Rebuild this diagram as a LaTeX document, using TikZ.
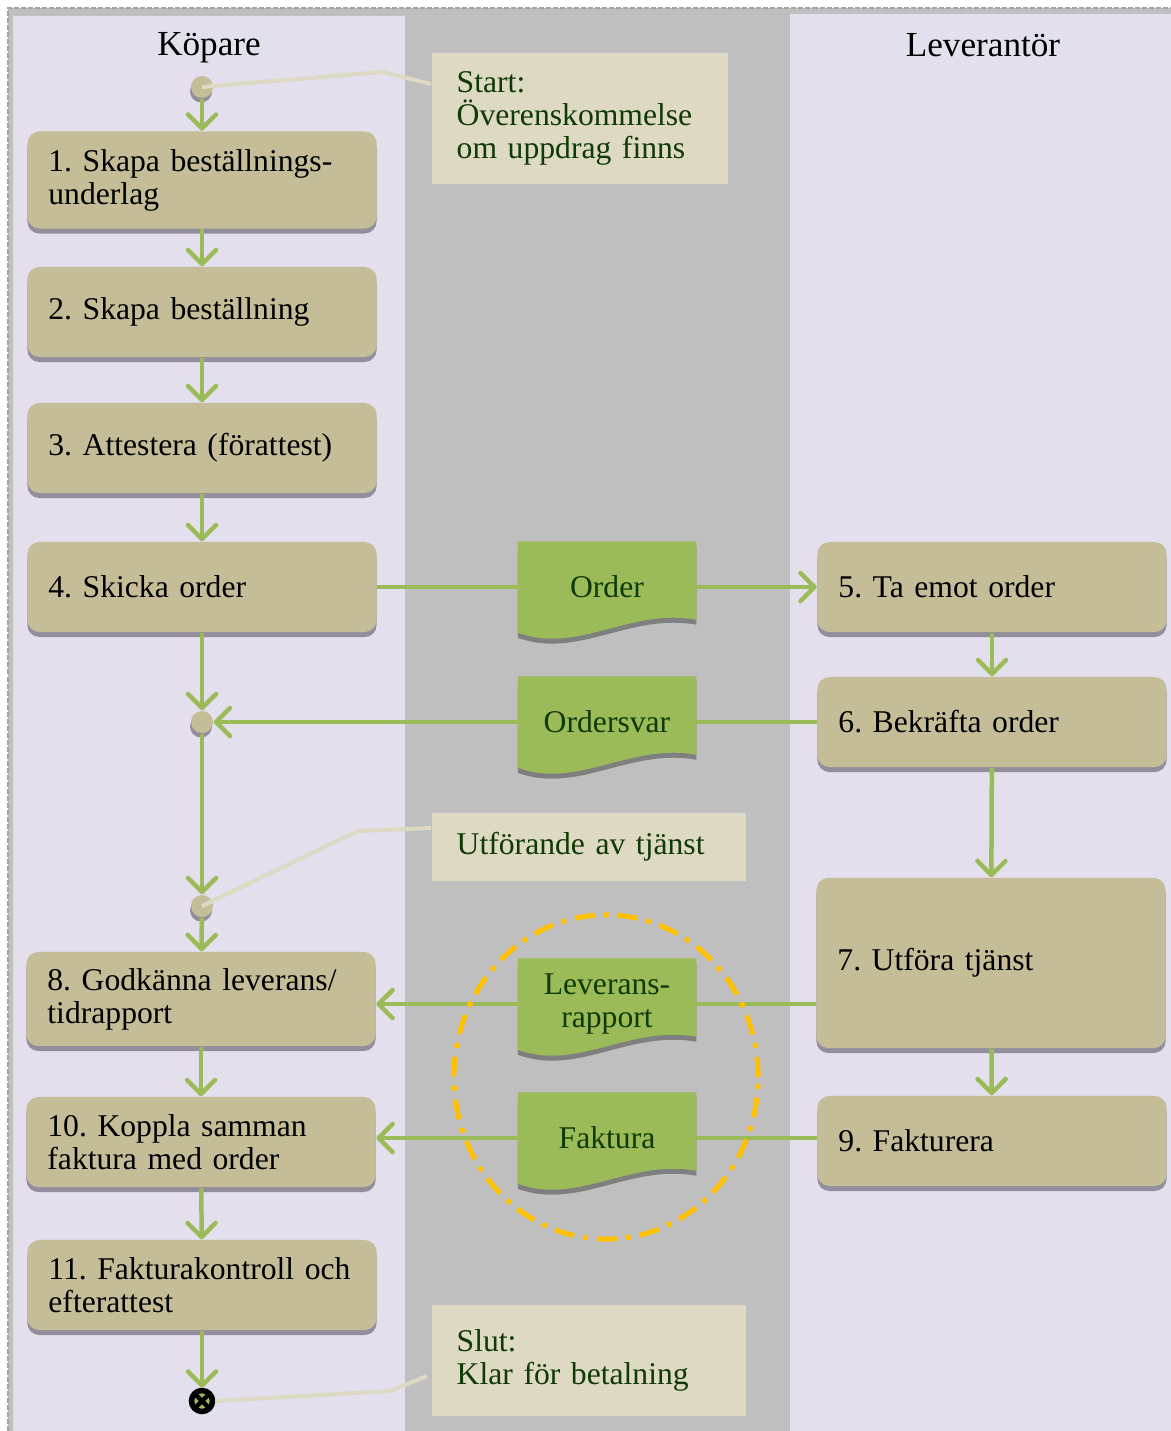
\documentclass[tikz,border=0pt]{standalone}
\usepackage{fontspec}
\setmainfont{Liberation Serif}
\frenchspacing
\usetikzlibrary{arrows.meta,shadows,calc}
\definecolor{lanebg}{HTML}{E4DFEC}
\definecolor{midbg}{HTML}{BFBFBF}
\definecolor{acttan}{HTML}{C4BD97}
\definecolor{notebg}{HTML}{DDD9C3}
\definecolor{flowgreen}{HTML}{9BBB59}
\definecolor{txtgreen}{HTML}{103A05}
\definecolor{boxshade}{HTML}{928E9B}
\definecolor{docshade}{HTML}{7F7F7F}
\definecolor{ringgold}{HTML}{FFC000}
\pgfdeclarelayer{lanes}
\pgfdeclarelayer{background}
\pgfsetlayers{lanes,background,main}

\tikzset{
  actbox/.style={fill=acttan, rounded corners=0.12cm, minimum width=3.49cm, minimum height=0.9cm,
    text width=3.07cm, inner xsep=0.21cm, align=left,
    drop shadow={shadow xshift=0cm, shadow yshift=-0.05cm, fill=boxshade, opacity=1}},
  docbox/.style={minimum width=1.77cm, minimum height=0.9cm, inner sep=0, text width=1.77cm, align=center, text=txtgreen},
  notebox/.style={fill=notebg, anchor=north west, inner xsep=0.25cm, align=left, text=txtgreen},
  joindot/.style={circle, fill=acttan, minimum size=0.22cm, inner sep=0,
    drop shadow={shadow xshift=-0.01cm, shadow yshift=-0.045cm, fill=boxshade, opacity=1}},
  flowline/.style={draw=flowgreen, line width=0.045cm},
  flowarrow/.style={flowline, -{Straight Barb[length=0.14cm,width=0.28cm,round]}},
  calloutline/.style={draw=notebg, line width=0.04cm},
}

% document shape with wavy bottom, filled behind the node
\newcommand{\docfill}[1]{%
  \fill[docshade] ($(#1.north west)+(0,5)$) -- ($(#1.north east)+(0,5)$) -- ($(#1.south east)+(0,-8)$)
    .. controls ($(#1.south east)+(-67,-20)$) and ($(#1.south west)+(60,27)$) .. ($(#1.south west)+(0,5)$) -- cycle;
  \fill[flowgreen] (#1.north west) -- (#1.north east) -- ($(#1.south east)+(0,-13)$)
    .. controls ($(#1.south east)+(-67,-25)$) and ($(#1.south west)+(60,22)$) .. (#1.south west) -- cycle;}

\begin{document}
\begin{tikzpicture}[x=0.01cm, y=-0.01cm, font=\fontsize{9}{9.4}\selectfont]
\useasboundingbox (0,0) rectangle (1171,1431);

% lanes
\begin{pgfonlayer}{lanes}
  \fill[midbg] (8,8) rectangle (1171,1431);
  \draw[midbg!85!black, line width=0.02cm, dash pattern=on 0.05cm off 0.02cm] (8,1431) -- (8,8) -- (1171,8);
  \fill[lanebg] (13,16) rectangle (405,1431);
  \fill[lanebg] (790,14) rectangle (1171,1431);
\end{pgfonlayer}

\node[font=\fontsize{10}{12}\selectfont] (tBuyer) at (209,48) {Köpare};
\node[font=\fontsize{10}{12}\selectfont] (tSupp) at (983,45) {Leverantör};

% activities
\node[actbox, minimum height=0.97cm] (b1) at (202,180) {1. Skapa beställnings-\\underlag};
\node[actbox] (b2) at (202,312) {2. Skapa beställning};
\node[actbox] (b3) at (202,448) {3. Attestera (förattest)};
\node[actbox] (b4) at (202,587) {4. Skicka order};
\node[actbox] (b5) at (992,587) {5. Ta emot order};
\node[actbox] (b6) at (992,722) {6. Bekräfta order};
\node[actbox, minimum height=1.7cm] (b7) at (991,963) {7. Utföra tjänst};
\node[actbox, minimum height=0.94cm] (b8) at (201,999) {8. Godkänna leverans/\\tidrapport};
\node[actbox] (b9) at (992,1141) {9. Fakturera};
\node[actbox] (b10) at (201,1142) {10. Koppla samman\\faktura med order};
\node[actbox] (b11) at (202,1285) {11. Fakturakontroll och\\efterattest};

% documents
\node[docbox] (dOrder) at (607,587) {Order};
\node[docbox] (dSvar) at (607,722) {Ordersvar};
\node[docbox] (dLev) at (607,1004) {Leverans-\\rapport};
\node[docbox] (dFak) at (607,1138) {Faktura};
\begin{pgfonlayer}{background}
  \docfill{dOrder}
  \docfill{dSvar}
  \docfill{dLev}
  \docfill{dFak}
\end{pgfonlayer}

% notes
\node[notebox, minimum width=2.96cm, minimum height=1.31cm, text width=2.46cm] (nStart) at (431,52) {Start:\\Överenskommelse\\om uppdrag finns};
\node[notebox, minimum width=3.14cm, minimum height=0.68cm, text width=2.64cm] (nUtf) at (431,812) {Utförande av tjänst};
\node[notebox, minimum width=3.14cm, minimum height=1.11cm, text width=2.64cm] (nSlut) at (431,1304) {Slut:\\Klar för betalning};

% start, join and end points
\node[joindot] (s0) at (202,87) {};
\node[joindot] (j1) at (202,722) {};
\node[joindot] (j2) at (202,906) {};
\node[circle, draw=black, line width=0.055cm, fill=flowgreen, minimum size=0.21cm, inner sep=0,
  path picture={\draw[black, line width=0.045cm]
    (path picture bounding box.north west) -- (path picture bounding box.south east)
    (path picture bounding box.north east) -- (path picture bounding box.south west);}] (fin) at (202,1401) {};

% flows
\draw[flowarrow] (s0) -- (b1);
\draw[flowarrow] (b1) -- (b2);
\draw[flowarrow] (b2) -- (b3);
\draw[flowarrow] (b3) -- (b4);
\draw[flowline] (b4) -- (dOrder);
\draw[flowarrow] (dOrder) -- (b5);
\draw[flowarrow] (b5) -- (b6);
\draw[flowline] (b6) -- (dSvar);
\draw[flowarrow] (dSvar) -- (j1);
\draw[flowarrow] (b4) -- (j1);
\draw[flowarrow] (j1) -- (j2);
\draw[flowarrow] (j2) -- (b8);
\draw[flowarrow] (b6) -- (b7);
\draw[flowline] (dLev.east -| b7.west) -- (dLev.east);
\draw[flowarrow] (dLev.west) -- (dLev.west -| b8.east);
\draw[flowarrow] (b7) -- (b9);
\draw[flowline] (dFak.east -| b9.west) -- (dFak.east);
\draw[flowarrow] (dFak.west) -- (dFak.west -| b10.east);
\draw[flowarrow] (b8) -- (b10);
\draw[flowarrow] (b10) -- (b11);
\draw[flowarrow] (b11) -- (fin);

% callouts
\coordinate (kStart) at (383,72);
\coordinate (kUtf) at (358,831);
\coordinate (kSlut) at (390,1391);
\draw[calloutline] (s0.center) -- (kStart) -- ($(nStart.north west)+(0,32)$);
\draw[calloutline] (j2.center) -- (kUtf) -- ($(nUtf.north west)+(0,16)$);
\draw[calloutline] (fin.east) -- (kSlut) -- ($(nSlut.north west)+(-4,72)$);

% ring round the invoice documents
\draw[ringgold, line width=0.05cm, dash pattern=on 0.2cm off 0.09cm on 0.05cm off 0.09cm]
  (606,1077) ellipse [x radius=1.52cm, y radius=1.62cm];
\end{tikzpicture}
\end{document}
